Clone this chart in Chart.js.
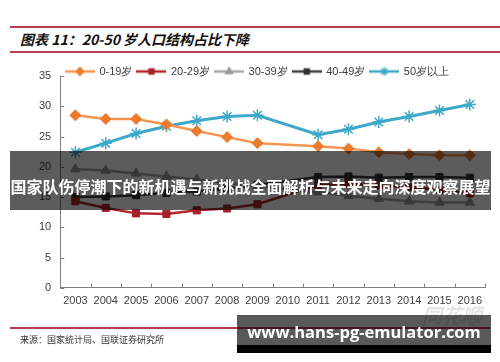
<!DOCTYPE html>
<html>
<head>
<meta charset="utf-8">
<script src="https://cdn.jsdelivr.net/npm/chart.js@4.4.1/dist/chart.umd.min.js"></script>
<style>
  body { margin: 0; width: 500px; height: 362px; background: #fff; position: relative; overflow: hidden; font-family: "Liberation Sans", Arial, sans-serif; }
  .rule { position: absolute; left: 10px; height: 1.5px; background: #bd3a55; }
  .title { position: absolute; left: 20px; top: 29px; font: italic bold 14px "Noto Sans CJK SC"; color: #111; white-space: nowrap; }
  .source { position: absolute; left: 20px; top: 333px; font: 9px "Noto Sans CJK SC"; color: #333; white-space: nowrap; }
  .wm { position: absolute; left: 422px; top: 300px; font: italic bold 20px "Noto Sans CJK SC"; color: #e4e4e4; }
  #box { position: absolute; left: 0; top: 56px; width: 500px; height: 261px; }
  .band { position: absolute; left: 10px; top: 151px; width: 481px; height: 59px; background: rgba(0,0,0,0.64); }
  .band span { position: absolute; left: 0; right: 0; top: 23px; line-height: 22px; text-align: center; color: #fff; font: bold 16px "Noto Sans CJK SC"; white-space: nowrap; }
  .foot { position: absolute; left: 237px; top: 315px; width: 254px; height: 30px; background: rgba(0,0,0,0.65); }
  .foot2 { position: absolute; left: 237px; top: 345px; width: 254px; height: 8px; background: #000; }
  .foot span { position: absolute; left: 0; right: 0; top: 5px; line-height: 26px; text-align: center; color: #fff; font: bold 16.5px "Open Sans"; white-space: nowrap; }
</style>
</head>
<body>
<div class="rule" style="top:26px;width:490px"></div>
<div class="title">图表 11：20-50 岁人口结构占比下降</div>
<div class="rule" style="top:51px;width:490px"></div>
<div id="box"><canvas class="js-chart"></canvas></div>
<div class="wm">同花顺</div>
<div class="rule" style="top:327px;width:480px"></div>
<div class="source">来源：国家统计局、国联证券研究所</div>
<div class="band"><span>国家队伤停潮下的新机遇与新挑战全面解析与未来走向深度观察展望</span></div>
<div class="foot"><span>www.hans-pg-emulator.com</span></div>
<div class="foot2"></div>
<script>
const years = ["2003", "2004", "2005", "2006", "2007", "2008", "2009", "2010", "2011", "2012", "2013", "2014", "2015", "2016"];
// 2010 has no point in the source chart, the line just runs across
const age0to19 = [28.5, 27.9, 27.9, 27.0, 25.9, 24.9, 23.9, null, 23.4, 23.0, 22.4, 22.1, 21.9, 21.9];
const age20to29 = [14.3, 13.2, 12.3, 12.2, 12.8, 13.1, 13.8, null, 17.0, 17.2, 16.9, 16.6, 16.2, 15.6];
const age30to39 = [19.6, 19.4, 18.9, 18.4, 17.9, 17.3, 16.8, null, 15.8, 15.2, 14.7, 14.3, 14.1, 14.1];
const age40to49 = [15.0, 15.1, 15.3, 15.7, 15.9, 16.4, 17.0, null, 18.3, 18.4, 18.2, 18.3, 18.3, 18.2];
const age50plus = [22.4, 23.9, 25.5, 26.7, 27.6, 28.3, 28.5, null, 25.3, 26.2, 27.4, 28.3, 29.3, 30.3];
const yTicks = [0, 5, 10, 15, 20, 25, 30, 35];

const ctx = document.querySelector(".js-chart").getContext("2d");

// little line + marker picture for the legend
function legendIcon(lineColor, pointColor, style, radius) {
  const c = document.createElement("canvas");
  c.width = 30;
  c.height = 12;
  const g = c.getContext("2d");
  g.strokeStyle = lineColor;
  g.lineWidth = 2.5;
  g.beginPath();
  g.moveTo(0, 6);
  g.lineTo(30, 6);
  g.stroke();
  g.fillStyle = pointColor;
  g.strokeStyle = pointColor;
  g.lineWidth = 1.5;
  Chart.helpers.drawPoint(g, { pointStyle: style, radius, borderWidth: 1.5 }, 15, 6);
  return c;
}

function series(label, data, lineColor, pointColor, style, radius, width) {
  return {
    label,
    data,
    borderColor: lineColor,
    backgroundColor: pointColor,
    borderWidth: width,
    pointStyle: style,
    pointRadius: radius,
    pointBackgroundColor: pointColor,
    pointBorderColor: pointColor,
    pointBorderWidth: style === "star" ? 1.5 : 1,
    spanGaps: true,
    tension: 0,
    icon: legendIcon(lineColor, pointColor, style, radius * 0.7),
  };
}

const innerTicks = {
  id: "innerTicks",
  beforeDatasetsDraw(chart) {
    const { ctx, scales: { x, y } } = chart;
    ctx.save();
    ctx.strokeStyle = "#7f7f7f";
    ctx.lineWidth = 1;
    ctx.beginPath();
    yTicks.forEach((v) => {
      const py = Math.round(y.getPixelForValue(v)) + 0.5;
      ctx.moveTo(y.right, py);
      ctx.lineTo(y.right + 4, py);
    });
    const step = x.getPixelForValue(1) - x.getPixelForValue(0);
    for (let i = 0; i <= years.length; i++) {
      const px = Math.round(x.getPixelForValue(0) - step / 2 + i * step) + 0.5;
      ctx.moveTo(px, x.top);
      ctx.lineTo(px, x.top - 4);
    }
    ctx.stroke();
    ctx.restore();
  },
};

// legend takes less room than it needs, so it hangs over the top of the plot like in the original
const LEGEND_ROOM = 15;
const legendFit = {
  id: "legendFit",
  beforeInit(chart) {
    const fit = chart.legend.fit;
    chart.legend.fit = function () {
      fit.bind(chart.legend)();
      this.height = LEGEND_ROOM;
    };
  },
  afterLayout(chart) {
    // make the clip box tall enough again
    chart.legend.bottom = chart.legend.top + 30;
  },
};

new Chart(ctx, {
  type: "line",
  data: {
    labels: years,
    datasets: [
      series("0-19岁", age0to19, "#f59552", "#ec7b2f", "rectRot", 5.5, 2.5),
      series("20-29岁", age20to29, "#b3272d", "#a62228", "rect", 5, 2.5),
      series("30-39岁", age30to39, "#a6a6a6", "#9a9a9a", "triangle", 5.5, 2.5),
      series("40-49岁", age40to49, "#3f3f3f", "#333333", "rect", 5, 2.5),
      series("50岁以上", age50plus, "#3ea8c8", "#3ea8c8", "star", 6, 3),
    ],
  },
  options: {
    responsive: true,
    maintainAspectRatio: false,
    animation: false,
    layout: { padding: { left: 30, right: 15, top: 5, bottom: 2 } },
    plugins: {
      tooltip: { enabled: false },
      legend: {
        position: "top",
        labels: {
          usePointStyle: true,
          pointStyleWidth: 28,
          padding: 5,
          color: "#404040",
          font: { family: "Liberation Sans", size: 11 },
          generateLabels(chart) {
            return chart.data.datasets.map((ds, i) => ({
              text: ds.label,
              pointStyle: ds.icon,
              fillStyle: ds.borderColor,
              strokeStyle: ds.borderColor,
              lineWidth: 0,
              fontColor: "#404040",
              datasetIndex: i,
            }));
          },
        },
      },
    },
    scales: {
      x: {
        offset: true,
        grid: { drawOnChartArea: false, drawTicks: false },
        border: { display: true, color: "#808080", width: 1 },
        ticks: {
          autoSkip: false,
          maxRotation: 0,
          padding: 7,
          color: "#404040",
          font: { family: "Liberation Sans", size: 11 },
        },
      },
      y: {
        min: 0,
        max: 35,
        afterBuildTicks(scale) {
          scale.ticks = yTicks.map((value) => ({ value }));
        },
        grid: { drawOnChartArea: false, drawTicks: false },
        border: { display: true, color: "#808080", width: 1 },
        ticks: {
          padding: 9,
          color: "#404040",
          font: { family: "Liberation Sans", size: 11 },
        },
      },
    },
  },
  plugins: [innerTicks, legendFit],
});
</script>
</body>
</html>
